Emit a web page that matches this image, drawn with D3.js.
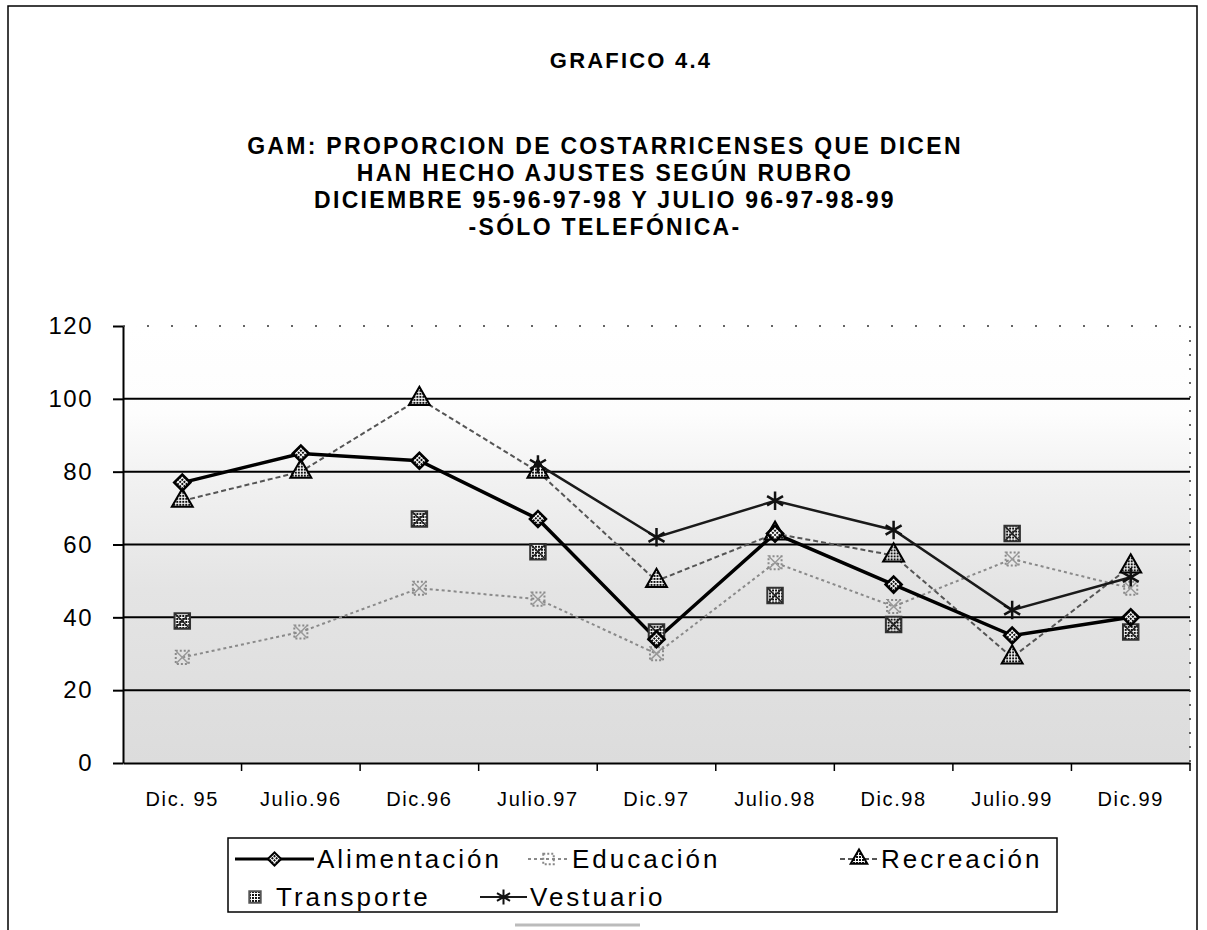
<!DOCTYPE html>
<html>
<head>
<meta charset="utf-8">
<script src="https://cdn.jsdelivr.net/npm/d3@7"></script>
<style>
  body { margin: 0; background: #fff; }
  svg { display: block; font-family: "Liberation Sans", Arial, sans-serif; }
</style>
</head>
<body>
<svg id="chart" width="1207" height="930"></svg>
<script>
// Data
const categories = ["Dic. 95", "Julio.96", "Dic.96", "Julio.97", "Dic.97", "Julio.98", "Dic.98", "Julio.99", "Dic.99"];
const alimentacion = [77, 85, 83, 67, 34, 63, 49, 35, 40];
const educacion = [29, 36, 48, 45, 30, 55, 43, 56, 48];
const recreacion = [72, 80, 100, 80, 50, 63, 57, 29, 54];
const transporte = [39, null, 67, 58, 36, 46, 38, 63, 36];
const vestuario = [null, null, null, 82, 62, 72, 64, 42, 51];
const yTicks = [0, 20, 40, 60, 80, 100, 120];

const titleLines = [
    "GAM: PROPORCION DE COSTARRICENSES QUE DICEN",
    "HAN HECHO AJUSTES SEGÚN RUBRO",
    "DICIEMBRE 95-96-97-98 Y JULIO 96-97-98-99",
    "-SÓLO TELEFÓNICA-"
];

const svg = d3.select("#chart");

const margin = {left: 123, right: 1190, top: 326, bottom: 763};

let x = d3.scaleBand()
          .domain(categories)
          .range([margin.left, margin.right]);

let y = d3.scaleLinear()
          .domain([0, 120])
          .range([margin.bottom, margin.top]);

// Defs: background shading and stipple pattern
let defs = svg.append("defs");
let grad = defs.append("linearGradient")
               .attr("id", "bgGrad")
               .attr("x1", 0).attr("y1", 0).attr("x2", 0).attr("y2", 1);
[[0, "#ffffff"], [0.2, "#fdfdfd"], [0.36, "#f1f1f1"], [0.6, "#e4e4e4"], [1, "#dcdcdc"]]
    .forEach(s => grad.append("stop").attr("offset", s[0]).attr("stop-color", s[1]));

let stip = defs.append("pattern")
               .attr("id", "stip")
               .attr("width", 3).attr("height", 3)
               .attr("patternUnits", "userSpaceOnUse");
stip.append("rect").attr("width", 3).attr("height", 3).attr("fill", "#fff");
stip.append("rect").attr("width", 2).attr("height", 2).attr("fill", "#111");

// Outer frame
svg.append("path")
   .attr("d", "M8,930 L8,6 L1197,6 L1197,930")
   .attr("fill", "none")
   .attr("stroke", "#000")
   .attr("stroke-width", 1.5);

// Titles
svg.append("text")
   .attr("x", 631).attr("y", 68)
   .attr("text-anchor", "middle")
   .attr("font-size", 22).attr("font-weight", "bold")
   .attr("letter-spacing", 2.2)
   .text("GRAFICO 4.4");

svg.selectAll("text.title")
   .data(titleLines)
   .enter()
   .append("text")
   .attr("class", "title")
   .attr("x", 605)
   .attr("y", (d, i) => 154 + i * 27)
   .attr("text-anchor", "middle")
   .attr("font-size", 23).attr("font-weight", "bold")
   .attr("letter-spacing", 2.3)
   .text(d => d);

// Plot background
svg.append("rect")
   .attr("x", margin.left).attr("y", y(120))
   .attr("width", margin.right - margin.left)
   .attr("height", y(0) - y(120))
   .attr("fill", "url(#bgGrad)");

// Gridlines
svg.selectAll("line.grid")
   .data(yTicks.filter(t => t > 0 && t < 120))
   .enter()
   .append("line")
   .attr("class", "grid")
   .attr("x1", margin.left).attr("x2", margin.right)
   .attr("y1", d => y(d)).attr("y2", d => y(d))
   .attr("stroke", "#000").attr("stroke-width", 2);

// Dotted top and right edges
svg.append("line")
   .attr("x1", margin.left).attr("x2", margin.right)
   .attr("y1", y(120)).attr("y2", y(120))
   .attr("stroke", "#333").attr("stroke-width", 1.5)
   .attr("stroke-dasharray", "2,22");
svg.append("line")
   .attr("x1", margin.right).attr("x2", margin.right)
   .attr("y1", y(120)).attr("y2", y(0))
   .attr("stroke", "#333").attr("stroke-width", 1.5)
   .attr("stroke-dasharray", "2,12");

// Y axis
let yAxis = svg.append("g")
   .attr("transform", `translate(${margin.left},0)`)
   .call(d3.axisLeft(y).tickValues(yTicks).tickSize(10).tickPadding(20).tickSizeOuter(0));
yAxis.select(".domain").attr("stroke-width", 2);
yAxis.selectAll(".tick line").attr("stroke-width", 2);
yAxis.selectAll("text")
     .attr("font-size", 24)
     .attr("letter-spacing", 1.5)
     .attr("fill", "#000");

// X axis
let xAxis = svg.append("g")
   .attr("transform", `translate(0,${margin.bottom})`)
   .call(d3.axisBottom(x).tickSize(0).tickPadding(29));
xAxis.select(".domain").attr("stroke-width", 2);
xAxis.selectAll("text")
     .attr("font-size", 20)
     .attr("letter-spacing", 1.6)
     .attr("fill", "#000");

// X tick marks at category boundaries
xAxis.selectAll("line.bound")
     .data(categories.slice(1).concat(["end"]))
     .enter()
     .append("line")
     .attr("class", "bound")
     .attr("x1", d => d === "end" ? margin.right : x(d))
     .attr("x2", d => d === "end" ? margin.right : x(d))
     .attr("y1", 0).attr("y2", 8)
     .attr("stroke", "#000").attr("stroke-width", 1.5);

// Series
const cx = i => x(categories[i]) + x.bandwidth() / 2;

function drawLine(values, opts) {
    let line = d3.line()
                 .defined(d => d !== null)
                 .x((d, i) => cx(i))
                 .y(d => y(d));
    svg.append("path")
       .datum(values)
       .attr("d", line)
       .attr("fill", "none")
       .attr("stroke", opts.stroke)
       .attr("stroke-width", opts.width)
       .attr("stroke-dasharray", opts.dash || null);
}

function drawMarkers(values, symType, size, opts) {
    let pts = values.map((v, i) => ({v: v, i: i})).filter(d => d.v !== null);
    svg.append("g")
       .selectAll("path")
       .data(pts)
       .enter()
       .append("path")
       .attr("transform", d => `translate(${cx(d.i)},${y(d.v)}) rotate(${opts.rotate || 0})`)
       .attr("d", d3.symbol(symType, size))
       .attr("fill", opts.fill)
       .attr("stroke", opts.stroke)
       .attr("stroke-width", opts.width)
       .attr("stroke-dasharray", opts.dash || null);
}

drawLine(educacion, {stroke: "#8a8a8a", width: 2, dash: "3,3"});
drawLine(recreacion, {stroke: "#555", width: 2, dash: "5,3"});
drawLine(vestuario, {stroke: "#1a1a1a", width: 2.5});
drawLine(alimentacion, {stroke: "#000", width: 3.5});

drawMarkers(educacion, d3.symbolSquare, 170, {fill: "none", stroke: "#8a8a8a", width: 2, dash: "2,2"});
drawMarkers(educacion, d3.symbolTimes, 100, {fill: "none", stroke: "#999", width: 1.5});
drawMarkers(transporte, d3.symbolSquare, 240, {fill: "url(#stip)", stroke: "#333", width: 2});
drawMarkers(transporte, d3.symbolTimes, 130, {fill: "none", stroke: "#222", width: 1.5});
drawMarkers(recreacion, d3.symbolTriangle, 190, {fill: "url(#stip)", stroke: "#000", width: 2});
drawMarkers(vestuario, d3.symbolAsterisk, 240, {fill: "none", stroke: "#111", width: 2.5});
drawMarkers(alimentacion, d3.symbolSquare, 130, {fill: "url(#stip)", stroke: "#000", width: 2.5, rotate: 45});

// Legend
let legend = svg.append("g");
legend.append("rect")
      .attr("x", 228).attr("y", 838)
      .attr("width", 829).attr("height", 74)
      .attr("fill", "#fff")
      .attr("stroke", "#000").attr("stroke-width", 1.5);

const legendItems = [
    {name: "Alimentación", x0: 235, x1: 314, tx: 317, row: 0, line: {stroke: "#000", width: 3}, sym: d3.symbolSquare, size: 90, rot: 45, mfill: "url(#stip)", mstroke: "#000"},
    {name: "Educación", x0: 528, x1: 569, tx: 572, row: 0, line: {stroke: "#8a8a8a", width: 2, dash: "3,3"}, sym: d3.symbolSquare, size: 110, mfill: "none", mstroke: "#888", mdash: "2,2"},
    {name: "Recreación", x0: 840, x1: 878, tx: 881, row: 0, line: {stroke: "#555", width: 2, dash: "5,3"}, sym: d3.symbolTriangle, size: 120, mfill: "url(#stip)", mstroke: "#000"},
    {name: "Transporte", x0: 255, x1: 255, tx: 276, row: 1, line: null, sym: d3.symbolSquare, size: 130, mfill: "url(#stip)", mstroke: "#555"},
    {name: "Vestuario", x0: 480, x1: 527, tx: 530, row: 1, line: {stroke: "#1a1a1a", width: 2}, sym: d3.symbolAsterisk, size: 160, mfill: "none", mstroke: "#111"}
];

legendItems.forEach(it => {
    let ly = 859 + it.row * 38;
    if (it.line) {
        legend.append("line")
              .attr("x1", it.x0).attr("x2", it.x1)
              .attr("y1", ly).attr("y2", ly)
              .attr("stroke", it.line.stroke)
              .attr("stroke-width", it.line.width)
              .attr("stroke-dasharray", it.line.dash || null);
    }
    legend.append("path")
          .attr("transform", `translate(${(it.x0 + it.x1) / 2},${ly}) rotate(${it.rot || 0})`)
          .attr("d", d3.symbol(it.sym, it.size))
          .attr("fill", it.mfill)
          .attr("stroke", it.mstroke)
          .attr("stroke-width", 2)
          .attr("stroke-dasharray", it.mdash || null);
    legend.append("text")
          .attr("x", it.tx).attr("y", ly + 9)
          .attr("font-size", 26)
          .attr("letter-spacing", 3)
          .text(it.name);
});

// Scan artifact bar under legend
svg.append("line")
   .attr("x1", 515).attr("x2", 640)
   .attr("y1", 925).attr("y2", 925)
   .attr("stroke", "#bbb").attr("stroke-width", 3);
</script>
</body>
</html>
